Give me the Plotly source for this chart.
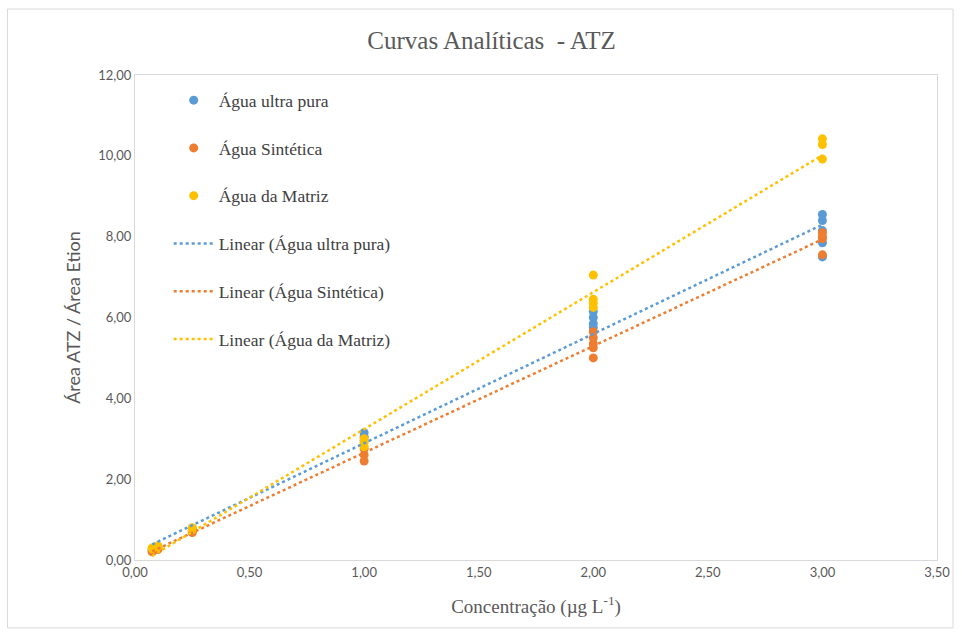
import numpy as np
import plotly.graph_objects as go

# Concentrations (µg/L) and area ratios for each matrix
conc_ultra = [0.075, 0.075, 0.1, 0.1, 0.25, 0.25, 1, 1, 1, 2, 2, 2, 2, 3, 3, 3, 3, 3]
ratio_ultra = [0.25, 0.22, 0.32, 0.30, 0.78, 0.72, 3.15, 3.05, 2.95,
               6.15, 6.00, 5.85, 5.75, 8.55, 8.40, 8.15, 7.85, 7.50]

conc_sint = [0.075, 0.075, 0.1, 0.1, 0.25, 0.25, 1, 1, 1, 2, 2, 2, 2, 2, 3, 3, 3, 3]
ratio_sint = [0.22, 0.20, 0.28, 0.26, 0.72, 0.68, 2.75, 2.60, 2.45,
              5.65, 5.50, 5.35, 5.25, 5.00, 8.10, 8.00, 7.95, 7.55]

conc_matriz = [0.075, 0.075, 0.1, 0.1, 0.25, 0.25, 1, 1, 1, 2, 2, 2, 2, 3, 3, 3]
ratio_matriz = [0.30, 0.28, 0.35, 0.33, 0.80, 0.75, 3.00, 2.90, 2.80,
                7.05, 6.45, 6.35, 6.25, 10.42, 10.28, 9.92]

names = ["Água ultra pura", "Água Sintética", "Água da Matriz"]
colors = ["#5B9BD5", "#ED7D31", "#FFC000"]
series = [(conc_ultra, ratio_ultra), (conc_sint, ratio_sint), (conc_matriz, ratio_matriz)]

x_ticks = [0, 0.5, 1, 1.5, 2, 2.5, 3, 3.5]
y_ticks = [0, 2, 4, 6, 8, 10, 12]

serif = "Liberation Serif"
sans = "Lato"
gray = "#595959"

fig = go.Figure()

# scatter points
for i, ((xs, ys), name, col) in enumerate(zip(series, names, colors)):
    fig.add_trace(go.Scatter(
        x=xs, y=ys, mode="markers", name=name,
        marker=dict(color=col, size=9),
        legendgroup=f"g{i}", legendrank=i,
    ))

# linear trend lines (least squares fit)
for i, ((xs, ys), name, col) in enumerate(zip(series, names, colors)):
    slope, intercept = np.polyfit(xs, ys, 1)
    xl = np.array([min(xs), max(xs)])
    fig.add_trace(go.Scatter(
        x=xl, y=slope * xl + intercept, mode="lines",
        name=f"Linear ({name})",
        line=dict(color=col, width=2.5, dash="dot"),
        legendgroup=f"g{i + 3}", legendrank=i + 3,
    ))

fig.update_layout(
    width=962, height=632,
    margin=dict(l=135, r=23, t=75, b=72),
    paper_bgcolor="white", plot_bgcolor="white",
    separators=",.",
    title=dict(text="Curvas Analíticas  - ATZ", x=0.511, xref="container",
               xanchor="center", y=0.937, yanchor="middle",
               font=dict(family=serif, size=25, color=gray)),
    showlegend=True,
    legend=dict(x=0.042, y=0.985, xanchor="left", yanchor="top",
                bgcolor="rgba(0,0,0,0)", traceorder="grouped",
                tracegroupgap=22, itemwidth=40,
                font=dict(family=serif, size=17.5, color="#404040")),
    xaxis=dict(range=[0, 3.5], tickvals=x_ticks, tickformat=".2f",
               showgrid=False, zeroline=False, showline=True, mirror=True,
               linecolor="#D9D9D9", linewidth=1, ticks="",
               tickfont=dict(family=sans, size=13, color=gray),
               title=dict(text="Concentração (µg L<sup>-1</sup>)", standoff=21,
                          font=dict(family=serif, size=19, color=gray))),
    yaxis=dict(range=[0, 12], tickvals=y_ticks, tickformat=".2f",
               showgrid=False, zeroline=False, showline=True, mirror=True,
               linecolor="#D9D9D9", linewidth=1, ticks="",
               tickfont=dict(family=sans, size=13, color=gray),
               title=dict(text="Área ATZ / Área Etion", standoff=12,
                          font=dict(family=sans, size=18, color=gray))),
    shapes=[dict(type="rect", xref="paper", yref="paper",
                 x0=-0.159, x1=1.02, y0=-0.14, y1=1.136,
                 line=dict(color="#D9D9D9", width=1), layer="below")],
)

fig.write_html("out.html")
